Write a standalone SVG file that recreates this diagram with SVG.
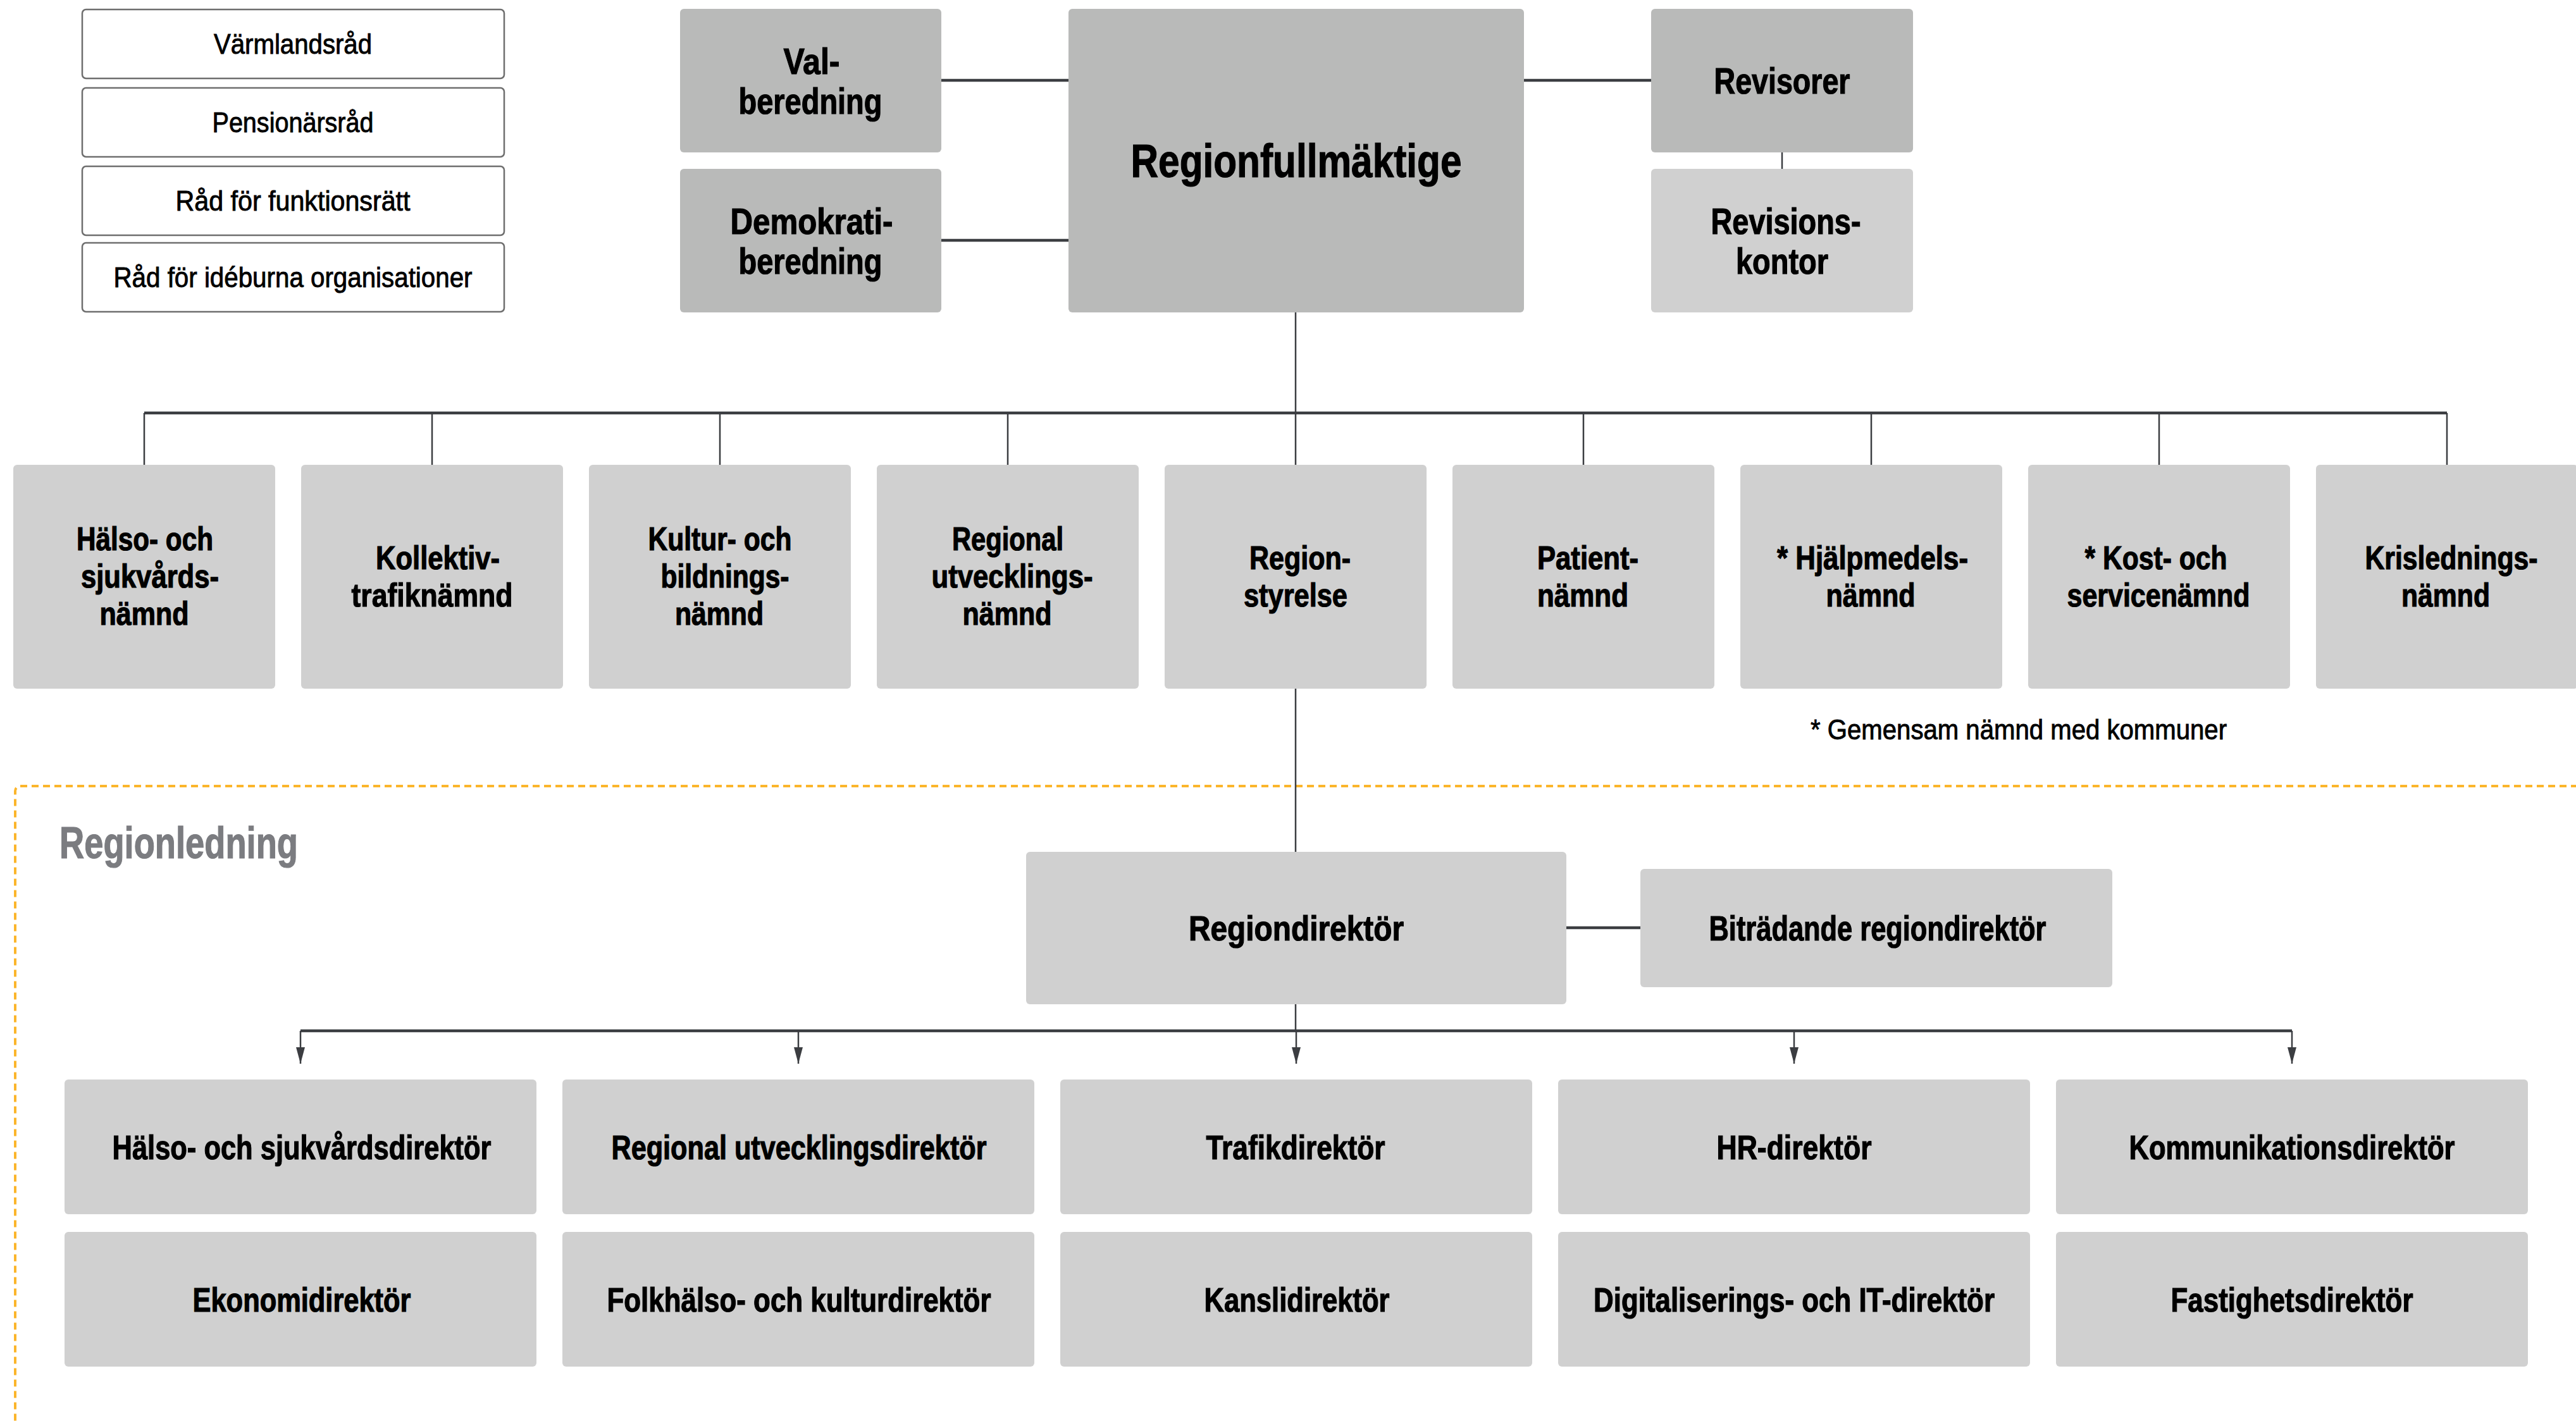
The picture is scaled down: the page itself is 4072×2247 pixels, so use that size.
<svg xmlns="http://www.w3.org/2000/svg" width="4072" height="2247" viewBox="0 0 4072 2247">
<defs>
<style>
.wb{fill:#ffffff;stroke:#6e6e6e;stroke-width:2.5}
.dk{fill:#b9bab9}
.lt{fill:#d0d0d0}
text{font-family:"Liberation Sans Narrow","Liberation Sans",Arial,sans-serif;fill:#000;text-anchor:middle}
.b{font-weight:bold;stroke:#000;stroke-width:1.2}
.n{font-weight:normal;stroke:#000;stroke-width:0.9}
.s44{font-size:44px}
.s52{font-size:52px}
.s53{font-size:53px}
.s56{font-size:56px}
.s58{font-size:58px}
.s74{font-size:74px}
.thick{stroke:#3b3d41;stroke-width:4.5;fill:none}
.thin{stroke:#3b3d41;stroke-width:2.5;fill:none}
.dash{fill:none;stroke:#fbb52b;stroke-width:4;stroke-dasharray:11 7}
</style>
<marker id="arr" markerUnits="userSpaceOnUse" markerWidth="26" markerHeight="14" refX="26" refY="7" orient="auto" viewBox="0 0 26 14">
<path d="M0,0 L26,7 L0,14 Z" fill="#3b3d41"/>
</marker>
</defs>
<rect width="4072" height="2247" fill="#ffffff"/>

<!-- Regionledning frame -->
<g id="regionledning-frame">
<rect class="dash" x="24" y="1243" width="4100" height="1100" rx="8"/>
<text x="94" y="1357" style="font-weight:bold;font-size:70px;fill:#7b7c80;stroke:#7b7c80;stroke-width:1.2;text-anchor:start" textLength="377" lengthAdjust="spacingAndGlyphs">Regionledning</text>
</g>

<!-- connectors -->
<g id="connectors">
<line class="thick" x1="1488" y1="127" x2="1689" y2="127"/>
<line class="thick" x1="1488" y1="380" x2="1689" y2="380"/>
<line class="thick" x1="2409" y1="127" x2="2610" y2="127"/>
<line class="thin" x1="2817" y1="241" x2="2817" y2="267"/>
<line class="thin" x1="2048" y1="494" x2="2048" y2="653"/>
<line class="thick" x1="228" y1="653" x2="3868" y2="653"/>
<path class="thin" d="M228,653V735M683,653V735M1138,653V735M1593,653V735M2048,653V735M2503,653V735M2958,653V735M3413,653V735M3868,653V735"/>
<line class="thin" x1="2048" y1="1089" x2="2048" y2="1347"/>
<line class="thin" x1="2048" y1="1588" x2="2048" y2="1630"/>
<line class="thick" x1="2476" y1="1467" x2="2593" y2="1467"/>
<line class="thick" x1="475" y1="1630" x2="3623" y2="1630"/>
<line class="thin" x1="475" y1="1630" x2="475" y2="1682" marker-end="url(#arr)"/>
<line class="thin" x1="1262" y1="1630" x2="1262" y2="1682" marker-end="url(#arr)"/>
<line class="thin" x1="2049" y1="1630" x2="2049" y2="1682" marker-end="url(#arr)"/>
<line class="thin" x1="2836" y1="1630" x2="2836" y2="1682" marker-end="url(#arr)"/>
<line class="thin" x1="3623" y1="1630" x2="3623" y2="1682" marker-end="url(#arr)"/>
</g>

<!-- councils -->
<g id="varmlandsrad"><rect class="wb" x="130" y="15" width="667" height="109" rx="6"/><text class="n s44" x="463" y="85" textLength="250" lengthAdjust="spacingAndGlyphs">Värmlandsråd</text></g>
<g id="pensionarsrad"><rect class="wb" x="130" y="139" width="667" height="109" rx="6"/><text class="n s44" x="463" y="209" textLength="255" lengthAdjust="spacingAndGlyphs">Pensionärsråd</text></g>
<g id="rad-funktionsratt"><rect class="wb" x="130" y="263" width="667" height="109" rx="6"/><text class="n s44" x="463" y="333" textLength="371" lengthAdjust="spacingAndGlyphs">Råd för funktionsrätt</text></g>
<g id="rad-ideburna"><rect class="wb" x="130" y="384" width="667" height="109" rx="6"/><text class="n s44" x="463" y="454" textLength="567" lengthAdjust="spacingAndGlyphs">Råd för idéburna organisationer</text></g>

<!-- top -->
<g id="valberedning"><rect class="dk" x="1075" y="14" width="413" height="227" rx="6"/>
<text class="b s58" x="1283" y="117" textLength="89" lengthAdjust="spacingAndGlyphs">Val-</text>
<text class="b s58" x="1281" y="180" textLength="227" lengthAdjust="spacingAndGlyphs">beredning</text></g>
<g id="demokratiberedning"><rect class="dk" x="1075" y="267" width="413" height="227" rx="6"/>
<text class="b s58" x="1283" y="370" textLength="257" lengthAdjust="spacingAndGlyphs">Demokrati-</text>
<text class="b s58" x="1281" y="433" textLength="227" lengthAdjust="spacingAndGlyphs">beredning</text></g>
<g id="regionfullmaktige"><rect class="dk" x="1689" y="14" width="720" height="480" rx="6"/>
<text class="b s74" x="2049" y="280" textLength="523" lengthAdjust="spacingAndGlyphs">Regionfullmäktige</text></g>
<g id="revisorer"><rect class="dk" x="2610" y="14" width="414" height="227" rx="6"/>
<text class="b s58" x="2817" y="148" textLength="215" lengthAdjust="spacingAndGlyphs">Revisorer</text></g>
<g id="revisionskontor"><rect class="lt" x="2610" y="267" width="414" height="227" rx="6"/>
<text class="b s58" x="2823" y="370" textLength="237" lengthAdjust="spacingAndGlyphs">Revisions-</text>
<text class="b s58" x="2817" y="433" textLength="146" lengthAdjust="spacingAndGlyphs">kontor</text></g>

<!-- boards -->
<g id="halso-sjukvardsnamnd"><rect class="lt" x="21" y="735" width="414" height="354" rx="6"/>
<text class="b s52" x="229" y="870" textLength="216" lengthAdjust="spacingAndGlyphs">Hälso- och</text>
<text class="b s52" x="237" y="929" textLength="218" lengthAdjust="spacingAndGlyphs">sjukvårds-</text>
<text class="b s52" x="228" y="988" textLength="141" lengthAdjust="spacingAndGlyphs">nämnd</text></g>
<g id="kollektivtrafiknamnd"><rect class="lt" x="476" y="735" width="414" height="354" rx="6"/>
<text class="b s52" x="692" y="900" textLength="196" lengthAdjust="spacingAndGlyphs">Kollektiv-</text>
<text class="b s52" x="683" y="959" textLength="255" lengthAdjust="spacingAndGlyphs">trafiknämnd</text></g>
<g id="kultur-bildningsnamnd"><rect class="lt" x="931" y="735" width="414" height="354" rx="6"/>
<text class="b s52" x="1138" y="870" textLength="227" lengthAdjust="spacingAndGlyphs">Kultur- och</text>
<text class="b s52" x="1146" y="929" textLength="203" lengthAdjust="spacingAndGlyphs">bildnings-</text>
<text class="b s52" x="1137" y="988" textLength="140" lengthAdjust="spacingAndGlyphs">nämnd</text></g>
<g id="regional-utvecklingsnamnd"><rect class="lt" x="1386" y="735" width="414" height="354" rx="6"/>
<text class="b s52" x="1593" y="870" textLength="176" lengthAdjust="spacingAndGlyphs">Regional</text>
<text class="b s52" x="1600" y="929" textLength="255" lengthAdjust="spacingAndGlyphs">utvecklings-</text>
<text class="b s52" x="1592" y="988" textLength="141" lengthAdjust="spacingAndGlyphs">nämnd</text></g>
<g id="regionstyrelse"><rect class="lt" x="1841" y="735" width="414" height="354" rx="6"/>
<text class="b s52" x="2055" y="900" textLength="160" lengthAdjust="spacingAndGlyphs">Region-</text>
<text class="b s52" x="2048" y="959" textLength="164" lengthAdjust="spacingAndGlyphs">styrelse</text></g>
<g id="patientnamnd"><rect class="lt" x="2296" y="735" width="414" height="354" rx="6"/>
<text class="b s52" x="2510" y="900" textLength="160" lengthAdjust="spacingAndGlyphs">Patient-</text>
<text class="b s52" x="2502" y="959" textLength="144" lengthAdjust="spacingAndGlyphs">nämnd</text></g>
<g id="hjalpmedelsnamnd"><rect class="lt" x="2751" y="735" width="414" height="354" rx="6"/>
<text class="b s52" x="2960" y="900" textLength="302" lengthAdjust="spacingAndGlyphs">* Hjälpmedels-</text>
<text class="b s52" x="2957" y="959" textLength="141" lengthAdjust="spacingAndGlyphs">nämnd</text></g>
<g id="kost-servicenamnd"><rect class="lt" x="3206" y="735" width="414" height="354" rx="6"/>
<text class="b s52" x="3408" y="900" textLength="225" lengthAdjust="spacingAndGlyphs">* Kost- och</text>
<text class="b s52" x="3412" y="959" textLength="289" lengthAdjust="spacingAndGlyphs">servicenämnd</text></g>
<g id="krisledningsnamnd"><rect class="lt" x="3661" y="735" width="414" height="354" rx="6"/>
<text class="b s52" x="3875" y="900" textLength="273" lengthAdjust="spacingAndGlyphs">Krislednings-</text>
<text class="b s52" x="3866" y="959" textLength="140" lengthAdjust="spacingAndGlyphs">nämnd</text></g>

<g id="footnote"><text class="n s44" x="2862" y="1169" style="text-anchor:start" textLength="658" lengthAdjust="spacingAndGlyphs">* Gemensam nämnd med kommuner</text></g>

<!-- leadership -->
<g id="regiondirektor"><rect class="lt" x="1622" y="1347" width="854" height="241" rx="6"/>
<text class="b s56" x="2049" y="1487" textLength="340" lengthAdjust="spacingAndGlyphs">Regiondirektör</text></g>
<g id="bitradande-regiondirektor"><rect class="lt" x="2593" y="1374" width="746" height="187" rx="6"/>
<text class="b s56" x="2968" y="1487" textLength="533" lengthAdjust="spacingAndGlyphs">Biträdande regiondirektör</text></g>

<g id="halso-sjukvardsdirektor"><rect class="lt" x="102" y="1707" width="746" height="213" rx="6"/>
<text class="b s53" x="477" y="1833" textLength="599" lengthAdjust="spacingAndGlyphs">Hälso- och sjukvårdsdirektör</text></g>
<g id="regional-utvecklingsdirektor"><rect class="lt" x="889" y="1707" width="746" height="213" rx="6"/>
<text class="b s53" x="1263" y="1833" textLength="593" lengthAdjust="spacingAndGlyphs">Regional utvecklingsdirektör</text></g>
<g id="trafikdirektor"><rect class="lt" x="1676" y="1707" width="746" height="213" rx="6"/>
<text class="b s53" x="2048" y="1833" textLength="283" lengthAdjust="spacingAndGlyphs">Trafikdirektör</text></g>
<g id="hr-direktor"><rect class="lt" x="2463" y="1707" width="746" height="213" rx="6"/>
<text class="b s53" x="2836" y="1833" textLength="245" lengthAdjust="spacingAndGlyphs">HR-direktör</text></g>
<g id="kommunikationsdirektor"><rect class="lt" x="3250" y="1707" width="746" height="213" rx="6"/>
<text class="b s53" x="3623" y="1833" textLength="515" lengthAdjust="spacingAndGlyphs">Kommunikationsdirektör</text></g>

<g id="ekonomidirektor"><rect class="lt" x="102" y="1948" width="746" height="213" rx="6"/>
<text class="b s53" x="477" y="2074" textLength="345" lengthAdjust="spacingAndGlyphs">Ekonomidirektör</text></g>
<g id="folkhalso-kulturdirektor"><rect class="lt" x="889" y="1948" width="746" height="213" rx="6"/>
<text class="b s53" x="1263" y="2074" textLength="607" lengthAdjust="spacingAndGlyphs">Folkhälso- och kulturdirektör</text></g>
<g id="kanslidirektor"><rect class="lt" x="1676" y="1948" width="746" height="213" rx="6"/>
<text class="b s53" x="2050" y="2074" textLength="293" lengthAdjust="spacingAndGlyphs">Kanslidirektör</text></g>
<g id="digitaliserings-it-direktor"><rect class="lt" x="2463" y="1948" width="746" height="213" rx="6"/>
<text class="b s53" x="2836" y="2074" textLength="634" lengthAdjust="spacingAndGlyphs">Digitaliserings- och IT-direktör</text></g>
<g id="fastighetsdirektor"><rect class="lt" x="3250" y="1948" width="746" height="213" rx="6"/>
<text class="b s53" x="3623" y="2074" textLength="383" lengthAdjust="spacingAndGlyphs">Fastighetsdirektör</text></g>
</svg>
